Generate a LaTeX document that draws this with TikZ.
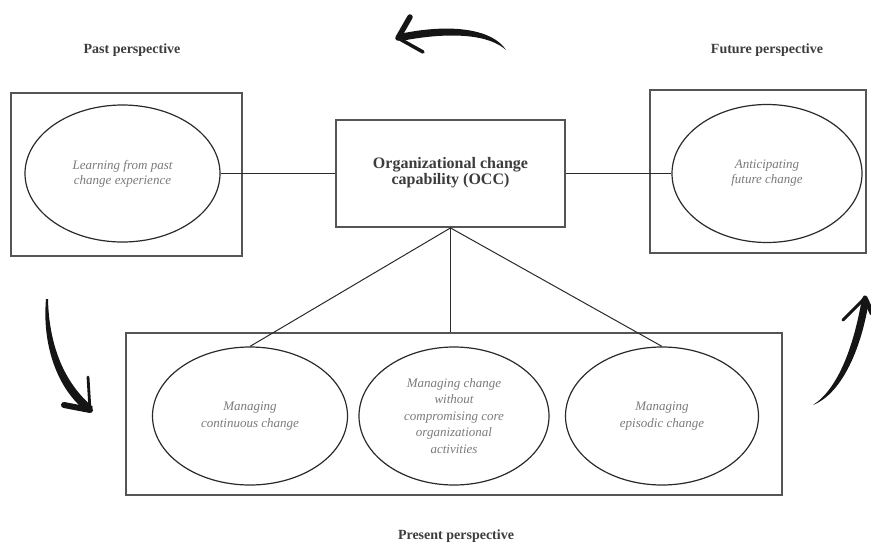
\documentclass[tikz,border=0pt]{standalone}
\usepackage{fontspec}
\setmainfont{Liberation Serif}
\usetikzlibrary{shapes.geometric}
\definecolor{labelgray}{HTML}{3C3C3C}
\definecolor{itgray}{HTML}{7A7A7A}
\definecolor{framegray}{HTML}{555555}
\definecolor{inkline}{HTML}{2A2A2A}
\definecolor{brush}{HTML}{151515}
\tikzset{
  frame/.style={draw=framegray, line width=1.8pt, rectangle, inner sep=0pt},
  capbox/.style={draw=framegray, line width=1.8pt, rectangle, inner sep=0pt, align=center,
    text=labelgray, font=\fontsize{16}{17}\selectfont\bfseries},
  oval/.style={draw=inkline, line width=1.2pt, ellipse, inner sep=0pt, align=center,
    text=itgray, font=\fontsize{13}{15}\selectfont\itshape},
  lowoval/.style={oval, font=\fontsize{13}{16.5}\selectfont\itshape},
  persp/.style={text=labelgray, font=\fontsize{14}{16}\selectfont\bfseries},
  link/.style={draw=inkline, line width=1pt},
  barb/.style={draw=brush, line cap=round},
}
\begin{document}
\begin{tikzpicture}[x=1pt, y=-1pt]
\useasboundingbox (0,0) rectangle (871,547);

% perspective labels
\node[persp] (pastlbl) at (132,50) {Past perspective};
\node[persp] (futlbl) at (767,50) {Future perspective};
\node[persp] (preslbl) at (456,536) {Present perspective};

% frames
\node[frame, minimum width=231pt, minimum height=163pt] (pastbox) at (126.5,174.5) {};
\node[frame, minimum width=216pt, minimum height=163pt] (futbox) at (758,171.5) {};
\node[frame, minimum width=656pt, minimum height=162pt] (presbox) at (454,414) {};

% central capability box
\node[capbox, minimum width=229pt, minimum height=107pt] (occ) at (450.5,173.5)
  {\raisebox{-3pt}{\begin{tabular}{@{}c@{}}Organizational change\\[-1pt]capability (OCC)\end{tabular}}};

% ellipses
\node[oval, minimum width=195pt, minimum height=137pt] (pastell) at (122.5,173.5)
  {Learning from past\\change experience};
\node[oval, minimum width=190pt, minimum height=138pt] (futell) at (767,173.5)
  {Anticipating\\future change};
\node[lowoval, minimum width=195pt, minimum height=138pt] (ell1) at (250,416)
  {Managing\\continuous change};
\node[lowoval, minimum width=190pt, minimum height=138pt] (ell2) at (454,416)
  {Managing change\\without\\compromising core\\organizational\\activities};
\node[lowoval, minimum width=193pt, minimum height=138pt] (ell3) at (662,416)
  {Managing\\episodic change};

% connectors
\draw[link] (pastell.east) -- (occ.west);
\draw[link] (occ.east) -- (futell.west);
\draw[link] (occ.south) -- (ell1.north);
\draw[link] (occ.south) -- (occ.south |- presbox.north);
\draw[link] (occ.south) -- (ell3.north);

% brush arrow at the top (pointing left)
\fill[brush] (506,50) .. controls (494,31) and (456,22) .. (399,34)
  -- (401,41) .. controls (452,31) and (490,35) .. (506,50) -- cycle;
\draw[barb, line width=5.5pt] (398,38) -- (410,17);
\draw[barb, line width=3.5pt] (398,38) -- (423,52);

% brush arrow on the left (pointing down)
\fill[brush] (46,299) .. controls (42,345) and (57,389) .. (87,412)
  -- (93,407) .. controls (64,383) and (49,345) .. (48,299) -- cycle;
\draw[barb, line width=2.8pt] (90,410) -- (88,377);
\draw[barb, line width=6pt] (90,410) -- (64,405);

% brush arrow on the right (pointing up)
\fill[brush] (813,405) .. controls (838,389) and (854,346) .. (862,298)
  -- (869,300) .. controls (862,346) and (843,393) .. (813,405) -- cycle;
\draw[barb, line width=3pt] (865,298) -- (843,320);
\draw[barb, line width=5pt] (865,298) -- (872,313);
\end{tikzpicture}
\end{document}
